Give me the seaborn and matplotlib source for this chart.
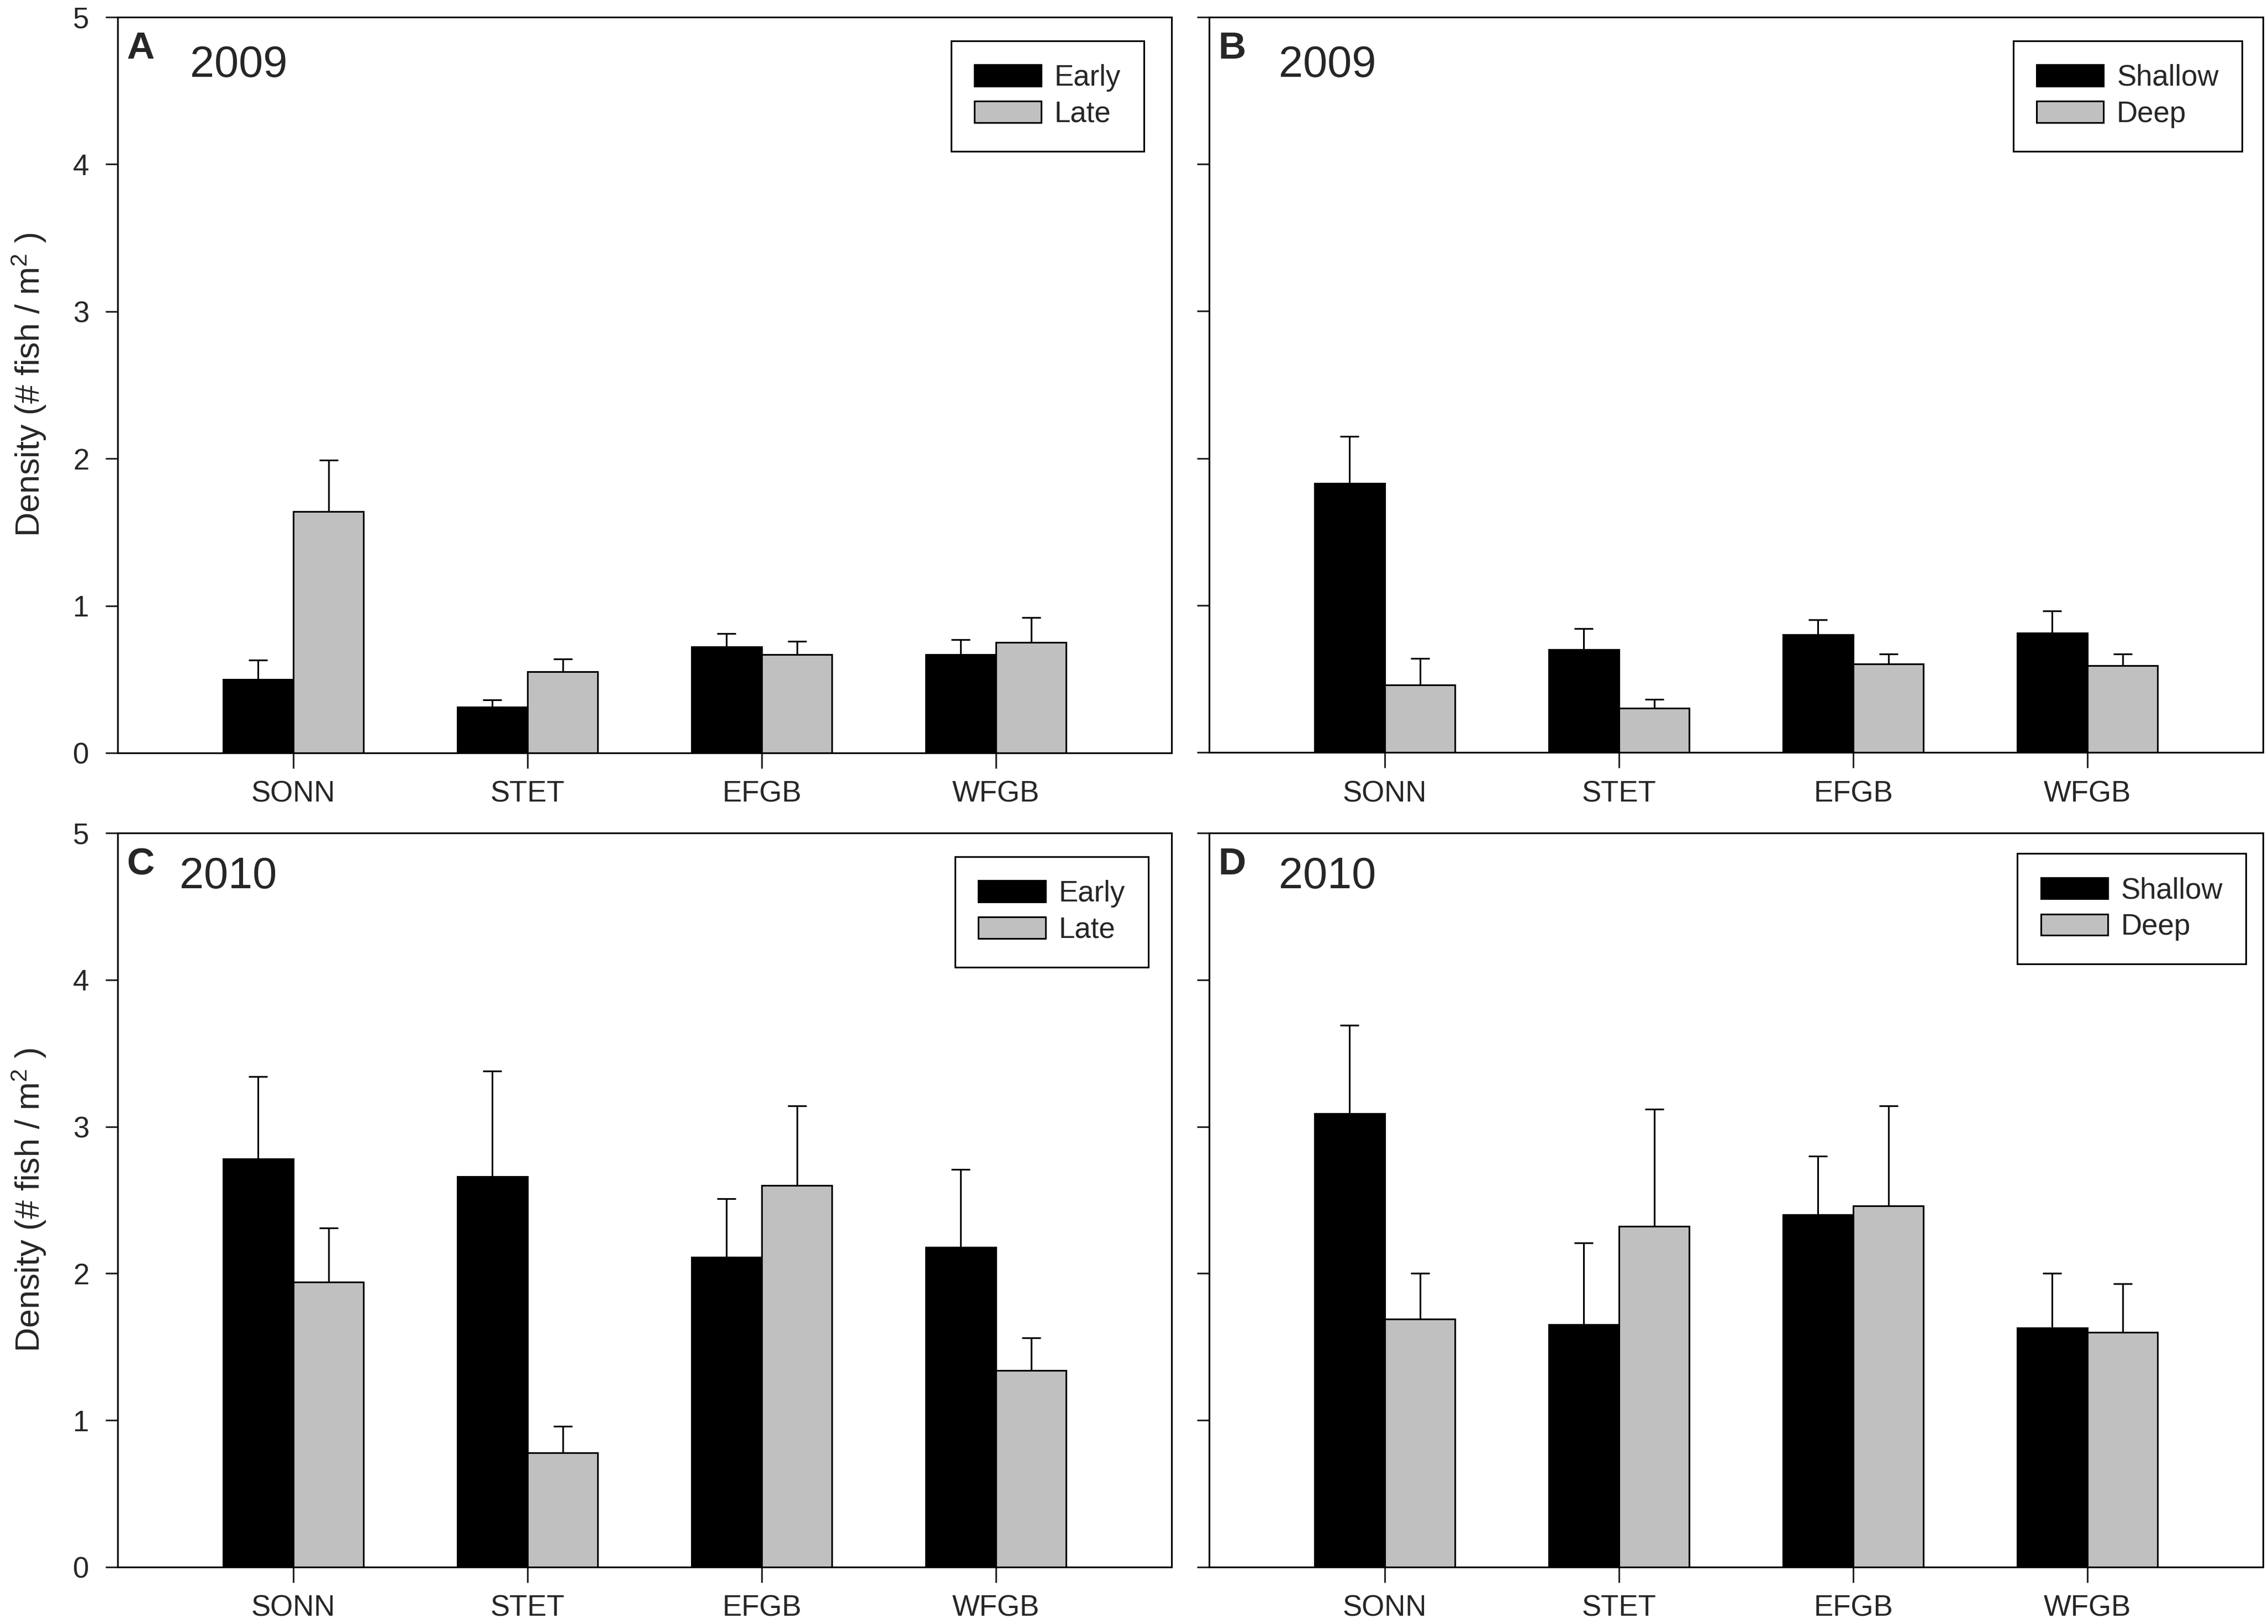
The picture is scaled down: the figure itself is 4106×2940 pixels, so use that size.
import numpy as np
import pandas as pd
import matplotlib
matplotlib.use("Agg")
import matplotlib.pyplot as plt
import seaborn as sns

# ---------------- data ----------------
sites = ["SONN", "STET", "EFGB", "WFGB"]

# Panel A: 2009, Early vs Late
a_early = [0.50, 0.31, 0.72, 0.67]
a_early_se = [0.13, 0.05, 0.09, 0.10]
a_late = [1.64, 0.55, 0.67, 0.75]
a_late_se = [0.35, 0.09, 0.09, 0.17]

# Panel B: 2009, Shallow vs Deep
b_shallow = [1.83, 0.70, 0.80, 0.81]
b_shallow_se = [0.32, 0.14, 0.10, 0.15]
b_deep = [0.46, 0.30, 0.60, 0.59]
b_deep_se = [0.18, 0.06, 0.07, 0.08]

# Panel C: 2010, Early vs Late
c_early = [2.78, 2.66, 2.11, 2.18]
c_early_se = [0.56, 0.72, 0.40, 0.53]
c_late = [1.94, 0.78, 2.60, 1.34]
c_late_se = [0.37, 0.18, 0.54, 0.22]

# Panel D: 2010, Shallow vs Deep
d_shallow = [3.09, 1.65, 2.40, 1.63]
d_shallow_se = [0.60, 0.56, 0.40, 0.37]
d_deep = [1.69, 2.32, 2.46, 1.60]
d_deep_se = [0.31, 0.80, 0.68, 0.33]

panel_letters = ["A", "B", "C", "D"]
panel_years = ["2009", "2009", "2010", "2010"]
y_ticks = [0, 1, 2, 3, 4, 5]
ylabel_text = "Density (# fish / m$^{2}$ )"

# ---------------- style ----------------
sns.set_style("ticks")
plt.rcParams["font.family"] = ["Liberation Sans", "DejaVu Sans"]
plt.rcParams["mathtext.fontset"] = "custom"
plt.rcParams["mathtext.rm"] = "Liberation Sans"
plt.rcParams["mathtext.it"] = "Liberation Sans"

BLACK = "#000000"
GREY = "#C0C0C0"
LW = 2.2

fig = plt.figure(figsize=(41.06, 29.40), dpi=100)

W, H = 4106.0, 2940.0
ax_w = (2121 - 213) / W
posA = [213 / W, 1 - 1363 / H, ax_w, (1363 - 31) / H]
posB = [2189 / W, 1 - 1362 / H, ax_w, (1362 - 31) / H]
posC = [213 / W, 1 - 2837 / H, ax_w, (2837 - 1508) / H]
posD = [2189 / W, 1 - 2837 / H, ax_w, (2837 - 1508) / H]

panels = [
    (posA, ("Early", "Late"), (a_early, a_late), (a_early_se, a_late_se), (0.974, 0.968)),
    (posB, ("Shallow", "Deep"), (b_shallow, b_deep), (b_shallow_se, b_deep_se), (0.980, 0.968)),
    (posC, ("Early", "Late"), (c_early, c_late), (c_early_se, c_late_se), (0.978, 0.968)),
    (posD, ("Shallow", "Deep"), (d_shallow, d_deep), (d_shallow_se, d_deep_se), (0.984, 0.972)),
]

for i, (pos, levels, vals, ses, leg_anchor) in enumerate(panels):
    ax = fig.add_axes(pos)
    df = pd.DataFrame({
        "site": sites * 2,
        "group": [levels[0]] * len(sites) + [levels[1]] * len(sites),
        "density": list(vals[0]) + list(vals[1]),
    })
    sns.barplot(
        data=df, x="site", y="density", hue="group",
        order=sites, hue_order=list(levels),
        palette=[BLACK, GREY], width=0.6, gap=0,
        edgecolor="black", linewidth=LW, errorbar=None,
        saturation=1, ax=ax, zorder=2,
    )
    # one-sided (upper) error bars placed on each bar
    for cont, se in zip(ax.containers, ses):
        xs = [p.get_x() + p.get_width() / 2 for p in cont.patches]
        ys = [p.get_height() for p in cont.patches]
        ax.errorbar(xs, ys, yerr=[np.zeros(len(se)), se], fmt="none",
                    ecolor="black", elinewidth=LW, capsize=12, capthick=LW,
                    zorder=1)

    ax.set_xlim(-0.75, 3.75)
    ax.set_ylim(0, 5)
    ax.set_yticks(y_ticks)
    ax.set_xlabel("")
    for sp in ax.spines.values():
        sp.set_visible(True)
        sp.set_linewidth(LW)
        sp.set_color("black")
    ax.tick_params(axis="y", direction="out", length=16, width=LW,
                   labelsize=38, pad=21, left=True, right=False)
    ax.tick_params(axis="x", direction="out", length=20, width=LW,
                   labelsize=38, pad=16, bottom=True, top=False)
    if i in (0, 2):
        ax.set_ylabel(ylabel_text, fontsize=44)
        ax.yaxis.set_label_coords(-0.066, 0.5)
    else:
        ax.set_ylabel("")
        ax.set_yticklabels([])

    ax.text(0.0215, 0.957, panel_letters[i], transform=ax.transAxes,
            ha="center", va="center", fontsize=50, fontweight="bold")
    year_x = 0.115 if i == 0 else (0.105 if i == 2 else 0.112)
    year_y = 0.934 if i < 2 else 0.94
    ax.text(year_x, year_y, panel_years[i], transform=ax.transAxes,
            ha="center", va="center", fontsize=57)

    sns.move_legend(
        ax, "upper right", bbox_to_anchor=leg_anchor, title=None,
        frameon=True, fontsize=38, handlelength=2.3, handleheight=0.75,
        handletextpad=0.45, labelspacing=0.3, borderpad=0.8,
        borderaxespad=0, fancybox=False,
    )
    leg = ax.get_legend()
    frame = leg.get_frame()
    frame.set_edgecolor("black")
    frame.set_linewidth(LW)
    frame.set_facecolor("white")
    frame.set_alpha(1)
    for h in leg.legend_handles:
        h.set_edgecolor("black")
        h.set_linewidth(LW)

fig.savefig("out.png", dpi=100, facecolor="white")
